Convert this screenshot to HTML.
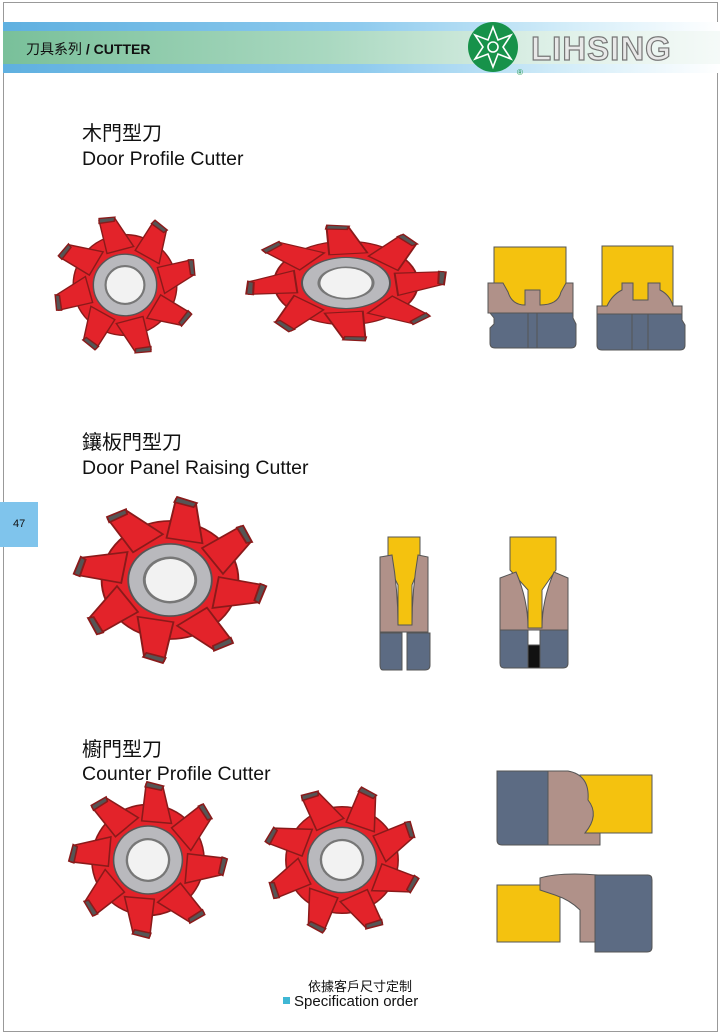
<!DOCTYPE html>
<html><head><meta charset="utf-8">
<style>
body{margin:0;width:720px;height:1034px;background:#fff;position:relative;overflow:hidden;font-family:"Liberation Sans","Noto Sans CJK TC",sans-serif;}
.t{position:absolute;color:#111;}
</style></head><body>
<div style="position:absolute;left:3px;top:2px;width:715px;height:1030px;border:1px solid #999;box-sizing:border-box;"></div>
<div style="position:absolute;left:3px;top:22px;width:717px;height:51px;background:linear-gradient(90deg,#5fb0e0 0%,#8fcbee 50%,#d6eef9 80%,#fff 100%);"></div>
<div style="position:absolute;left:3px;top:31px;width:717px;height:33px;background:linear-gradient(90deg,#79c09a 0%,#a9d8c0 45%,#dcefe6 75%,#f5faf8 100%);"></div>
<div class="t" style="left:26px;top:39px;font-size:14px;">刀具系列 <b>/ CUTTER</b></div>
<svg style="position:absolute;left:465px;top:20px" width="240" height="58">
<circle cx="28" cy="27" r="25" fill="#17924a"/>
<g fill="none" stroke="#fff" stroke-width="1.6">
<polygon points="28,7 33,20 46,15 38,27 46,39 33,34 28,47 23,34 10,39 18,27 10,15 23,20"/>
<circle cx="28" cy="27" r="5"/></g>
<text x="52" y="55" font-size="8" fill="#17924a" font-family="Liberation Sans">®</text>
<text x="66" y="40" font-size="33" font-weight="bold" fill="#e8e8e8" stroke="#777" stroke-width="1.2" font-family="Liberation Sans" letter-spacing="1">LIHSING</text>
</svg>
<div style="position:absolute;left:0;top:502px;width:38px;height:45px;background:#7fc4ec;"></div>
<div class="t" style="left:13px;top:518px;font-size:11px;">47</div>
<div class="t" style="left:82px;top:117px;font-size:20px;">木門型刀</div>
<div class="t" style="left:82px;top:148px;font-size:19.5px;">Door Profile Cutter</div>
<div class="t" style="left:82px;top:426px;font-size:20px;">鑲板門型刀</div>
<div class="t" style="left:82px;top:457px;font-size:19.5px;">Door Panel Raising Cutter</div>
<div class="t" style="left:82px;top:733px;font-size:20px;">櫥門型刀</div>
<div class="t" style="left:82px;top:763px;font-size:19.5px;">Counter Profile Cutter</div>
<div class="t" style="left:0;width:720px;text-align:center;top:976px;font-size:13px;">依據客戶尺寸定制</div>
<div class="t" style="left:283px;top:993px;font-size:15px;"><span style="display:inline-block;width:7px;height:7px;background:#3fb7d4;margin-right:4px;vertical-align:2px"></span>Specification order</div>

<svg style="position:absolute;left:0;top:0" width="720" height="1034">
<defs>
<g id="cut">
<g fill="#e3232a" stroke="#8a1a1a" stroke-width="0.02">
<circle r="0.72"/>
<g id="tooth"><polygon points="0.45,-0.25 0.92,-0.36 0.95,-0.14 0.55,0.12" /><polygon points="0.88,-0.36 0.95,-0.36 0.97,-0.14 0.91,-0.15" fill="#555"/></g>
<use href="#tooth" transform="rotate(45)"/><use href="#tooth" transform="rotate(90)"/><use href="#tooth" transform="rotate(135)"/>
<use href="#tooth" transform="rotate(180)"/><use href="#tooth" transform="rotate(225)"/><use href="#tooth" transform="rotate(270)"/><use href="#tooth" transform="rotate(315)"/>
</g>
<circle r="0.44" fill="#b9b9bd" stroke="#555" stroke-width="0.02"/>
<circle r="0.27" fill="#f2f2f2" stroke="#777" stroke-width="0.03"/>
</g>
</defs>
<g transform="translate(125,285) scale(72,70)"><use href="#cut"/></g>
<g transform="translate(346,283) scale(100,58)"><use href="#cut" transform="rotate(10)"/></g>
<g transform="translate(170,580) scale(95,82)"><use href="#cut" transform="rotate(-20)"/></g>
<g transform="translate(148,860) scale(78,77)"><use href="#cut" transform="rotate(20)"/></g>
<g transform="translate(342,860) scale(78,74)"><use href="#cut" transform="rotate(-10)"/></g>

<g stroke="#555" stroke-width="1">
<rect x="494" y="247" width="72" height="60" fill="#f4c20f"/>
<path d="M488,283 H503 L508,292 Q512,305 525,305 H525 V290 H540 V305 Q558,305 561,292 L566,283 H573 V313 H488Z" fill="#b09189"/>
<path d="M490,313 H528 V348 H495 Q490,348 490,343 V328 L494,324 V318 Z" fill="#5c6b83"/>
<path d="M537,313 H573 V318 L576,324 V343 Q576,348 571,348 H537Z" fill="#5c6b83"/>
<rect x="528" y="313" width="9" height="35" fill="#5c6b83"/>
<rect x="602" y="246" width="71" height="64" fill="#f4c20f"/>
<path d="M597,306 H607 Q612,295 622,290 V283 H633 V300 H648 V283 H660 V290 Q670,295 673,306 H682 V314 H597Z" fill="#b09189"/>
<path d="M597,314 H632 V350 H602 Q597,350 597,345Z" fill="#5c6b83"/>
<path d="M648,314 H682 V320 L685,325 V345 Q685,350 680,350 H648Z" fill="#5c6b83"/>
<rect x="632" y="314" width="16" height="36" fill="#5c6b83"/>
<path d="M388,537 H420 V565 L412,585 V625 H398 V585 L388,565Z" fill="#f4c20f"/>
<path d="M380,557 L392,555 Q398,590 398,625 H412 Q412,590 418,555 L428,557 V632 H380Z" fill="#b09189"/>
<path d="M380,633 H402 V670 H383 Q380,670 380,665Z" fill="#5c6b83"/>
<path d="M407,633 H430 V665 Q430,670 425,670 H407Z" fill="#5c6b83"/>
<path d="M510,537 H556 V570 L542,590 V628 H528 V590 L510,570Z" fill="#f4c20f"/>
<path d="M500,578 L516,572 Q528,600 528,628 H542 Q542,600 554,572 L568,578 V630 H500Z" fill="#b09189"/>
<path d="M500,630 H528 V668 H504 Q500,668 500,663Z" fill="#5c6b83"/>
<path d="M540,630 H568 V663 Q568,668 563,668 H540Z" fill="#5c6b83"/>
<rect x="528" y="645" width="12" height="23" fill="#111"/>
<rect x="580" y="775" width="72" height="58" fill="#f4c20f"/>
<path d="M497,771 H548 V845 H502 Q497,845 497,840Z" fill="#5c6b83"/>
<path d="M548,771 H568 Q590,775 588,800 Q600,815 585,833 H600 V845 H548Z" fill="#b09189"/>
<rect x="497" y="885" width="63" height="57" fill="#f4c20f"/>
<path d="M540,878 Q560,872 598,875 V942 H580 V910 Q570,900 555,895 L540,890Z" fill="#b09189"/>
<path d="M595,875 H648 Q652,875 652,880 V947 Q652,952 647,952 H595Z" fill="#5c6b83"/>
</g>
</svg>
</body></html>
